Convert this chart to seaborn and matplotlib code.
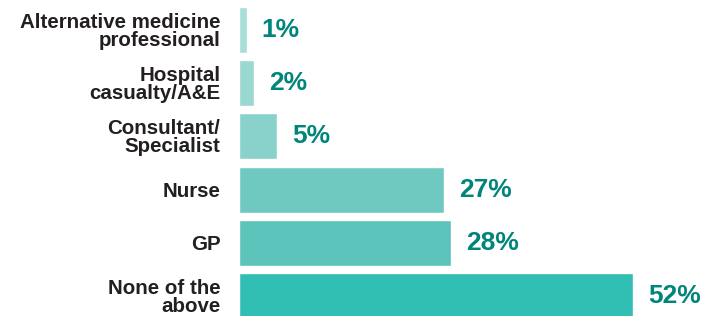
import matplotlib
matplotlib.use('Agg')
import matplotlib.pyplot as plt
import seaborn as sns
import pandas as pd

# ── Data ──────────────────────────────────────────────────────────────────────
categories = [
    'Alternative medicine\nprofessional',
    'Hospital\ncasualty/A&E',
    'Consultant/\nSpecialist',
    'Nurse',
    'GP',
    'None of the\nabove',
]
values = [1, 2, 5, 27, 28, 52]
bar_colors = ['#a9ddd8', '#9ad8d2', '#88d2cb', '#70c9c0', '#5cc4bb', '#32bfb3']

LABEL_TEAL = '#00857a'
TEXT_DARK = '#231f20'

sns.set_style('white')
plt.rcParams['font.family'] = ['Liberation Sans', 'DejaVu Sans']

df = pd.DataFrame({'category': categories, 'value': values})

fig = plt.figure(figsize=(7.16, 3.16), dpi=100)
ax = fig.add_axes([239 / 716, 0, 455 / 716, 1])

sns.barplot(data=df, x='value', y='category', hue='category',
            palette=bar_colors, legend=False, width=0.865,
            saturation=1, ax=ax, orient='h')

ax.set_xlim(0, 60)
ax.set_ylim(5.376, -0.564)

for i, v in enumerate(values):
    ax.text(v + 2.0, i, f'{v}%', va='center', ha='left',
            fontsize=19, fontweight='bold', color=LABEL_TEAL)

ax.set_xlabel('')
ax.set_ylabel('')
ax.set_xticks([])
ax.set_yticks(range(len(categories)))
ax.set_yticklabels(categories, fontsize=14.8, fontweight='bold',
                   color=TEXT_DARK, linespacing=0.92)
ax.tick_params(axis='y', length=0, pad=13.5)
for s in ax.spines.values():
    s.set_visible(False)

fig.savefig('out.png', dpi=100, facecolor='white')
